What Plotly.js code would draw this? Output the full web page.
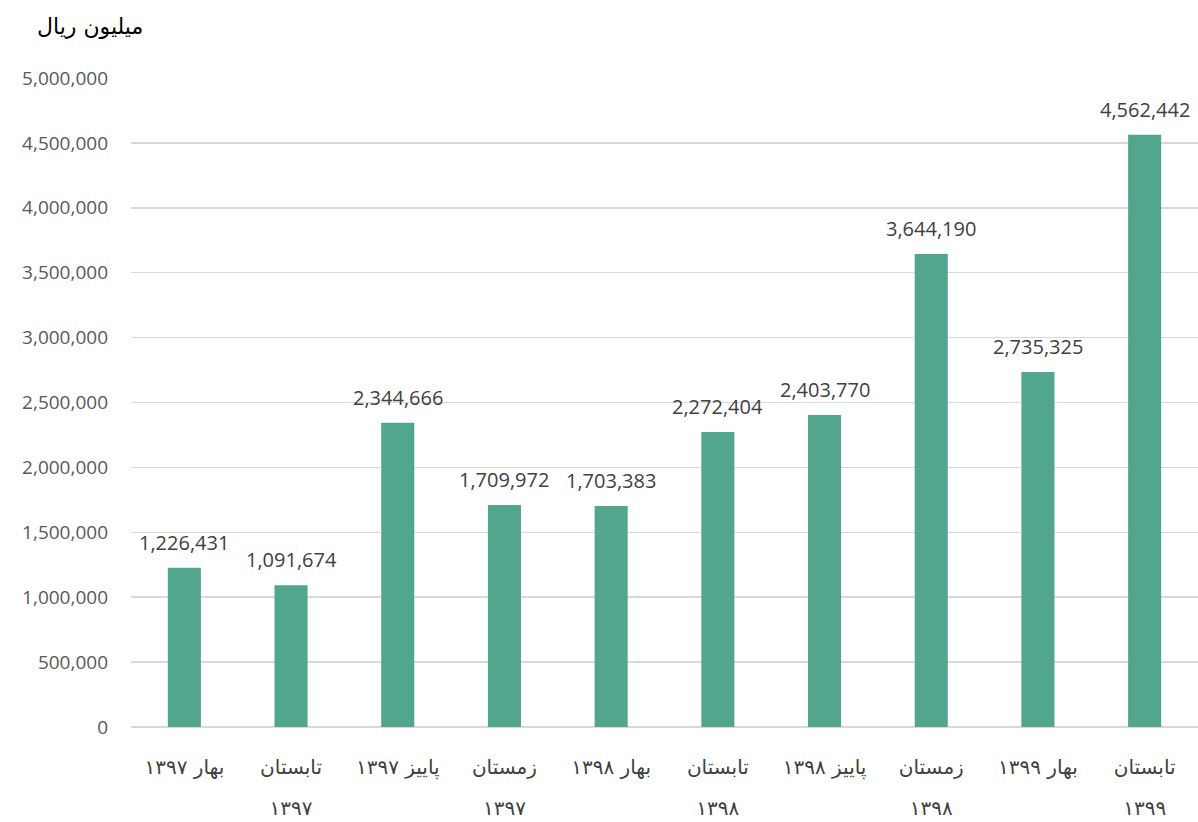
<!DOCTYPE html>
<html>
<head>
<meta charset="utf-8">
<script src="https://cdn.plot.ly/plotly-3.0.1.min.js"></script>
<style>html,body{margin:0;padding:0;background:#fff;}#chart{width:1198px;height:822px;}</style>
</head>
<body>
<div id="chart"></div>
<script>
var categories = ["بهار ۱۳۹۷", "تابستان ۱۳۹۷", "پاییز ۱۳۹۷", "زمستان ۱۳۹۷", "بهار ۱۳۹۸", "تابستان ۱۳۹۸", "پاییز ۱۳۹۸", "زمستان ۱۳۹۸", "بهار ۱۳۹۹", "تابستان ۱۳۹۹"];
var tickLine1 = ["بهار ۱۳۹۷", "تابستان", "پاییز ۱۳۹۷", "زمستان", "بهار ۱۳۹۸", "تابستان", "پاییز ۱۳۹۸", "زمستان", "بهار ۱۳۹۹", "تابستان"];
var tickLine2 = ["", "۱۳۹۷", "", "۱۳۹۷", "", "۱۳۹۸", "", "۱۳۹۸", "", "۱۳۹۹"];
var values = [1226431, 1091674, 2344666, 1709972, 1703383, 2272404, 2403770, 3644190, 2735325, 4562442];
var yTicks = [0, 500000, 1000000, 1500000, 2000000, 2500000, 3000000, 3500000, 4000000, 4500000, 5000000];
var unitLabel = "میلیون ریال";

var latin = "'Open Sans', 'Noto Sans', 'DejaVu Sans', sans-serif";
var persian = "'DejaVu Sans', 'Noto Sans', sans-serif";

var idx = categories.map(function(c, i){ return i; });

var trace = {
  type: 'bar',
  x: categories,
  y: values,
  marker: {color: '#53A68E'},
  width: 0.31,
  hoverinfo: 'x+y'
};

// carrier for the second line of the category labels (draws nothing)
var yearAxisTrace = {
  type: 'scatter', mode: 'none',
  x: idx, y: values,
  xaxis: 'x2', yaxis: 'y',
  hoverinfo: 'skip', showlegend: false
};

var annotations = categories.map(function(c, i) {
  return {
    x: c, y: values[i], xref: 'x', yref: 'y',
    text: values[i].toLocaleString('en-US'),
    showarrow: false, yanchor: 'bottom', yshift: 10,
    font: {family: latin, size: 20, color: '#404040'}
  };
});
annotations.push({
  xref: 'paper', yref: 'paper', x: 0.013, y: 1.08,
  xanchor: 'right', yanchor: 'middle',
  text: unitLabel, showarrow: false,
  font: {family: persian, size: 22, color: '#000000'}
});

var layout = {
  width: 1198, height: 822,
  margin: {l: 131, r: 0, t: 78, b: 95},
  paper_bgcolor: '#ffffff', plot_bgcolor: '#ffffff',
  showlegend: false,
  bargap: 0.69,
  xaxis: {
    type: 'category',
    tickmode: 'array', tickvals: categories, ticktext: tickLine1,
    tickfont: {family: persian, size: 20, color: '#404040'},
    showgrid: false, zeroline: false, showline: false,
    ticks: '', ticklabelstandoff: 26
  },
  xaxis2: {
    overlaying: 'x', side: 'bottom', anchor: 'y',
    range: [-0.5, categories.length - 0.5],
    tickmode: 'array', tickvals: idx, ticktext: tickLine2,
    tickfont: {family: persian, size: 20, color: '#404040'},
    showgrid: false, zeroline: false, showline: false,
    ticks: '', ticklabelstandoff: 67, fixedrange: true
  },
  yaxis: {
    range: [0, 5000000],
    tickmode: 'array', tickvals: yTicks,
    ticktext: yTicks.map(function(v){return v.toLocaleString('en-US');}),
    tickfont: {family: latin, size: 19, color: '#595959'},
    showgrid: true, gridcolor: '#d9d9d9', gridwidth: 1.5,
    zeroline: true, zerolinecolor: '#d9d9d9', zerolinewidth: 1.5,
    showline: false, ticks: '', ticklabelstandoff: 22
  },
  annotations: annotations
};

Plotly.newPlot('chart', [trace, yearAxisTrace], layout, {displayModeBar: false, staticPlot: true});
</script>
</body>
</html>
